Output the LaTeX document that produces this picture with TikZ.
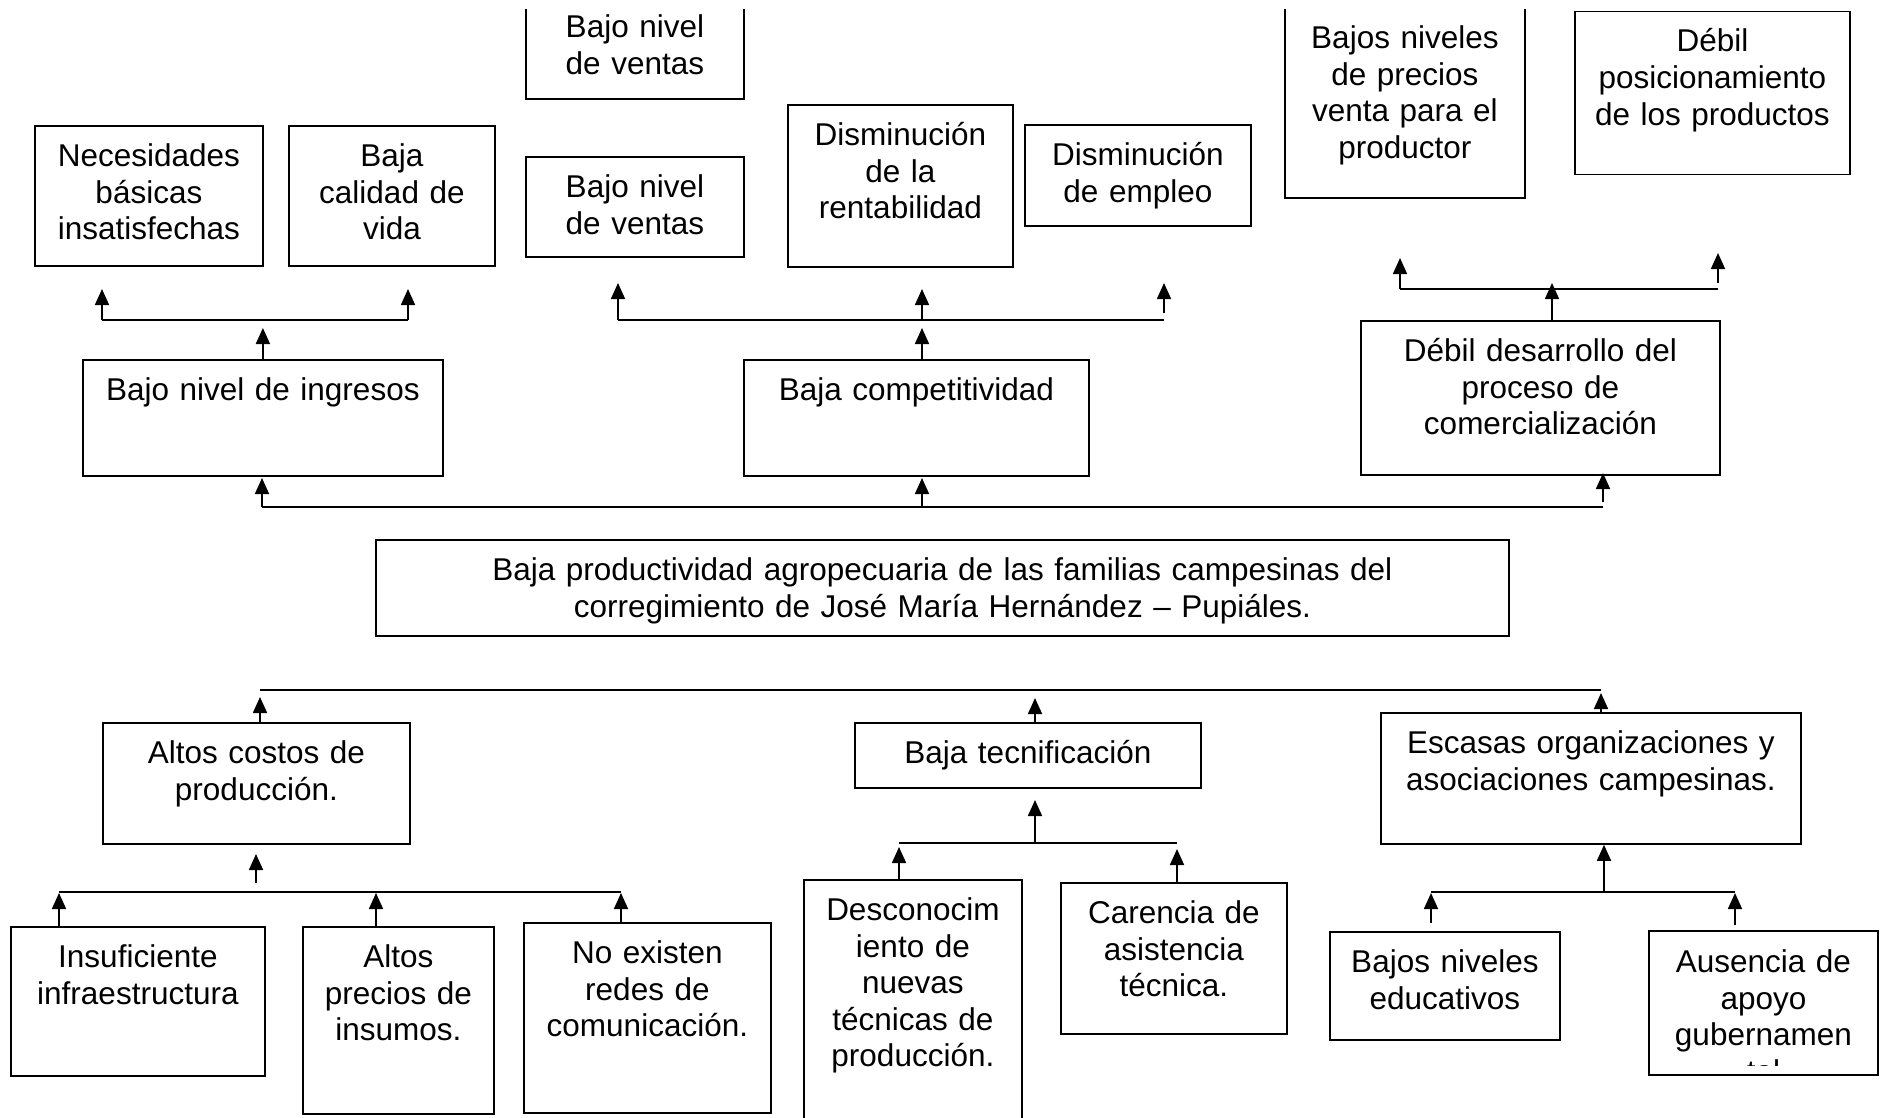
\documentclass[tikz,border=0pt]{standalone}
\usepackage{fontspec}
\setmainfont{Liberation Sans}
\usepackage{tikz}
\usetikzlibrary{arrows.meta}

\begin{document}
\begin{tikzpicture}[x=1pt, y=-1pt,
    cbox/.style 2 args={draw, line width=1.8pt, anchor=north west,
        inner xsep=0pt, inner ysep=0pt, align=center,
        font=\fontsize{31.5}{36.6}\selectfont,
        minimum width=#1pt, text width=#1pt,
        /utils/exec={\pgfmathsetlengthmacro\boxdp{#2pt-40.5pt}},
        text height=40.5pt, text depth=\boxdp},
    bar/.style={line width=1.8pt},
    arr/.style={line width=1.7pt, -{Triangle[length=16pt,width=14pt]}}]
    \useasboundingbox (0,0) rectangle (1883,1117);
    \clip (0,9.5) rectangle (1883,1117);

    % Efectos
    \node[cbox={218}{102}] (ventasA) at (525,-4) {Bajo nivel\\de ventas};
    \node[cbox={228}{140}] (necesidades) at (34,125) {Necesidades\\básicas\\insatisfechas};
    \node[cbox={206}{140}] (calidad) at (288,125) {Baja\\calidad de\\vida};
    \node[cbox={218}{100}] (ventasB) at (525,156) {Bajo nivel\\de ventas};
    \node[cbox={225}{162}] (rentabilidad) at (787,104) {Disminución\\de la\\rentabilidad};
    \node[cbox={226}{101}] (empleo) at (1024,124) {Disminución\\de empleo};
    \node[cbox={240}{190}] (precios) at (1284,7) {Bajos niveles\\de precios\\venta para el\\productor};
    \node[cbox={275}{163}] (posicionamiento) at (1574,10.5) {Débil\\posicionamiento\\de los productos};

    \node[cbox={360}{116}] (ingresos) at (82,359) {Bajo nivel de ingresos};
    \node[cbox={345}{116}] (competitividad) at (743,359) {Baja competitividad};
    \node[cbox={359}{154}] (desarrollo) at (1360,320) {Débil desarrollo del\\proceso de\\comercialización};

    % Problema central
    \node[cbox={1133}{96}] (problema) at (375,539) {Baja productividad agropecuaria de las familias campesinas del\\corregimiento de José María Hernández – Pupiáles.};

    % Causas
    \node[cbox={307}{121}] (costos) at (102,722) {Altos costos de\\producción.};
    \node[cbox={346}{65}] (tecnificacion) at (854,722) {Baja tecnificación};
    \node[cbox={420}{131}] (escasas) at (1380,712) {Escasas organizaciones y\\asociaciones campesinas.};

    \node[cbox={254}{149}] (infraestructura) at (10,926) {Insuficiente\\infraestructura};
    \node[cbox={191}{187}] (insumos) at (302,926) {Altos\\precios de\\insumos.};
    \node[cbox={247}{190}] (redes) at (523,922) {No existen\\redes de\\comunicación.};
    \node[cbox={218}{260}] (desconocimiento) at (803,879) {Desconocim\\iento de\\nuevas\\técnicas de\\producción.};
    \node[cbox={226}{151}] (asistencia) at (1060,882) {Carencia de\\asistencia\\técnica.};
    \node[cbox={230}{108}] (educativos) at (1329,931) {Bajos niveles\\educativos};
    \begin{scope}
        \clip (1640,920) rectangle (1890,1065);
        \node[cbox={227}{142}, draw=none] (ausencia) at (1649,931) {Ausencia de\\apoyo\\gubernamen\\tal};
    \end{scope}
    \draw[line width=1.8pt] (ausencia.north west) rectangle (ausencia.south east);

    % Puntos de las barras
    \coordinate (efA1) at (102,320);
    \coordinate (efA2) at (408,320);
    \coordinate (efB1) at (618,320);
    \coordinate (efBm) at (922,320);
    \coordinate (efB2) at (1164,320);
    \coordinate (efC1) at (1400,289);
    \coordinate (efCm) at (1552,289);
    \coordinate (efC2) at (1718,289);
    \coordinate (efM1) at (262,507);
    \coordinate (efMm) at (922,507);
    \coordinate (efM2) at (1603,507);
    \coordinate (caM1) at (260,690);
    \coordinate (caMt) at (1035,690);
    \coordinate (caM2) at (1601,690);
    \coordinate (caA1) at (59,892);
    \coordinate (caAm) at (256,892);
    \coordinate (caAp) at (376,892);
    \coordinate (caA2) at (621,892);
    \coordinate (caB1) at (899,843);
    \coordinate (caBm) at (1035,843);
    \coordinate (caB2) at (1177,843);
    \coordinate (caC1) at (1431,892);
    \coordinate (caCm) at (1604,892);
    \coordinate (caC2) at (1735,892);

    % Arbol de efectos
    \draw[bar] (efA1) -- (efA2);
    \draw[arr] (efA1) -- ++(0,-31);
    \draw[arr] (efA2) -- ++(0,-31);
    \draw[arr] (ingresos.north) -- ++(0,-31);

    \draw[bar] (efB1) -- (efB2);
    \draw[arr] (efB1) -- ++(0,-37);
    \draw[arr] (efBm) -- ++(0,-31);
    \draw[arr] ([yshift=7pt]efB2) -- ++(0,-30);
    \draw[arr] (competitividad.north -| efBm) -- ++(0,-31);

    \draw[bar] (efC1) -- (efC2);
    \draw[arr] (efC1) -- ++(0,-31);
    \draw[arr] ([yshift=6pt]efC2) -- ++(0,-30);
    \draw[arr] (desarrollo.north -| efCm) -- ++(0,-37);

    \draw[bar] (efM1) -- (efM2);
    \draw[arr] (efM1) -- ++(0,-29);
    \draw[arr] (efMm) -- ++(0,-29);
    \draw[arr] ([yshift=5pt]efM2) -- ++(0,-29);

    % Arbol de causas
    \draw[bar] (caM1) -- (caM2);
    \draw[arr] (costos.north -| caM1) -- ++(0,-25);
    \draw[arr] (tecnificacion.north -| caMt) -- ++(0,-24);
    \draw[arr] (escasas.north -| caM2) -- ++(0,-19);

    \draw[bar] (caA1) -- (caA2);
    \draw[arr] ([yshift=9pt]caAm) -- ++(0,-29);
    \draw[arr] (infraestructura.north -| caA1) -- ++(0,-33);
    \draw[arr] (insumos.north -| caAp) -- ++(0,-33);
    \draw[arr] (redes.north -| caA2) -- ++(0,-29);

    \draw[bar] (caB1) -- (caB2);
    \draw[arr] (caBm) -- ++(0,-43);
    \draw[arr] (desconocimiento.north -| caB1) -- ++(0,-32);
    \draw[arr] (asistencia.north -| caB2) -- ++(0,-33);

    \draw[bar] (caC1) -- (caC2);
    \draw[arr] (caCm) -- (escasas.south -| caCm);
    \draw[arr] ([yshift=8pt]educativos.north -| caC1) -- ++(0,-30);
    \draw[arr] ([yshift=6pt]ausencia.north -| caC2) -- ++(0,-32);
\end{tikzpicture}
\end{document}
